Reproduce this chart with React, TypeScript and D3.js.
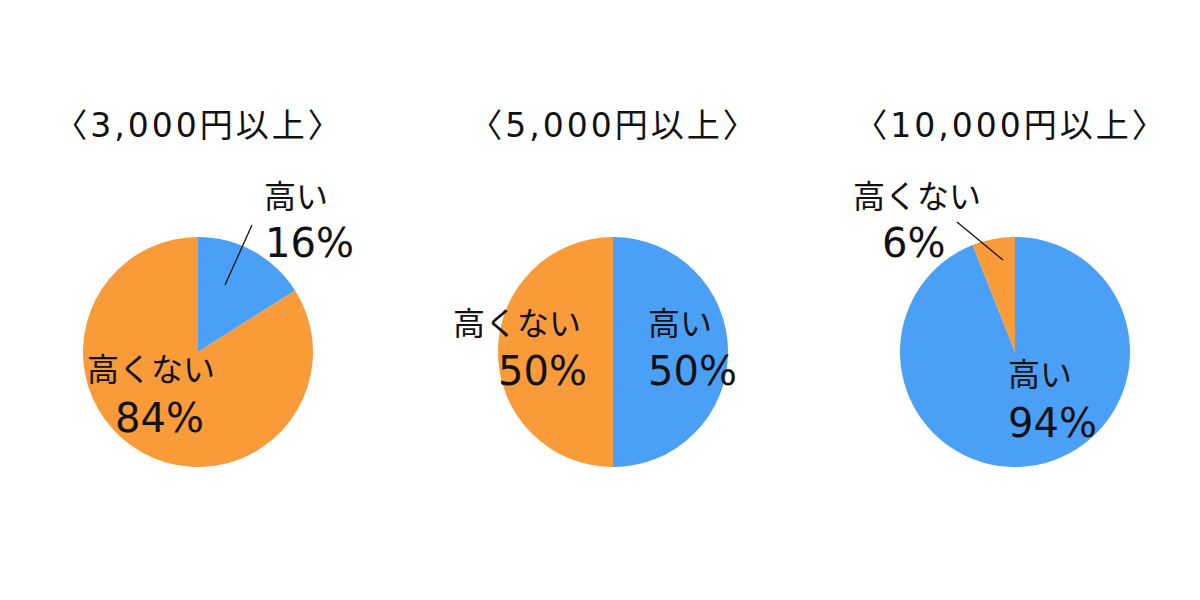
import React from "react";
import * as d3 from "d3";

const titles = ["〈3,000円以上〉", "〈5,000円以上〉", "〈10,000円以上〉"];
const categories = ["高い", "高くない"];
const highValues = [16, 50, 94];
const notHighValues = [84, 50, 6];

const COLORS = ["#4aa0f6", "#f99b39"];
const FONT = "'DejaVu Sans', 'Noto Sans CJK JP', sans-serif";
const CJK = "'Noto Sans CJK JP', sans-serif";

const W = 1200;
const H = 600;
const R = 115;
const CY = 352;

type LabelPos = { nameX: number; nameY: number; pctX: number; pctY: number };
const layouts: {
  cx: number;
  titleX: number;
  labels: LabelPos[];
  leader?: [number, number, number, number];
}[] = [
  {
    cx: 198,
    titleX: 199,
    labels: [
      { nameX: 66, nameY: -144, pctX: 67, pctY: -95 },
      { nameX: -111, nameY: 29, pctX: -83, pctY: 80 },
    ],
    leader: [27, -67, 54, -127],
  },
  {
    cx: 613,
    titleX: 614,
    labels: [
      { nameX: 35, nameY: -17, pctX: 35, pctY: 33 },
      { nameX: -160, nameY: -17, pctX: -115, pctY: 33 },
    ],
  },
  {
    cx: 1015,
    titleX: 1011,
    labels: [
      { nameX: -7, nameY: 34, pctX: -7, pctY: 85 },
      { nameX: -162, nameY: -144, pctX: -133, pctY: -95 },
    ],
    leader: [-12, -92, -58, -130],
  },
];

export default function App() {
  const pie = d3
    .pie<number>()
    .sort(null)
    .value((d) => d);
  const arc = d3.arc<d3.PieArcDatum<number>>().innerRadius(0).outerRadius(R);
  const color = d3.scaleOrdinal<string, string>().domain(categories).range(COLORS);

  return (
    <svg
      width={W}
      height={H}
      style={{ position: "absolute", left: 0, top: 0, background: "#fff" }}
      fontFamily={FONT}
    >
      <rect width={W} height={H} fill="#fff" />
      {titles.map((t, i) => {
        const values = [highValues[i], notHighValues[i]];
        const arcs = pie(values);
        const L = layouts[i];
        return (
          <g key={t}>
            <text
              x={L.titleX}
              y={137}
              textAnchor="middle"
              fontSize={33}
              letterSpacing={3}
              fill="#111"
            >
              {t}
            </text>
            <g transform={`translate(${L.cx},${CY})`}>
              {arcs.map((a, j) => (
                <path key={j} d={arc(a) || ""} fill={color(categories[j])} />
              ))}
              {L.leader && (
                <line
                  x1={L.leader[0]}
                  y1={L.leader[1]}
                  x2={L.leader[2]}
                  y2={L.leader[3]}
                  stroke="#111"
                  strokeWidth={1.3}
                />
              )}
              {categories.map((c, j) => (
                <g key={c}>
                  <text
                    x={L.labels[j].nameX}
                    y={L.labels[j].nameY}
                    fontSize={32}
                    fontFamily={CJK}
                    fill="#111"
                  >
                    {c}
                  </text>
                  <text x={L.labels[j].pctX} y={L.labels[j].pctY} fontSize={40} fill="#111">
                    {values[j]}%
                  </text>
                </g>
              ))}
            </g>
          </g>
        );
      })}
    </svg>
  );
}
